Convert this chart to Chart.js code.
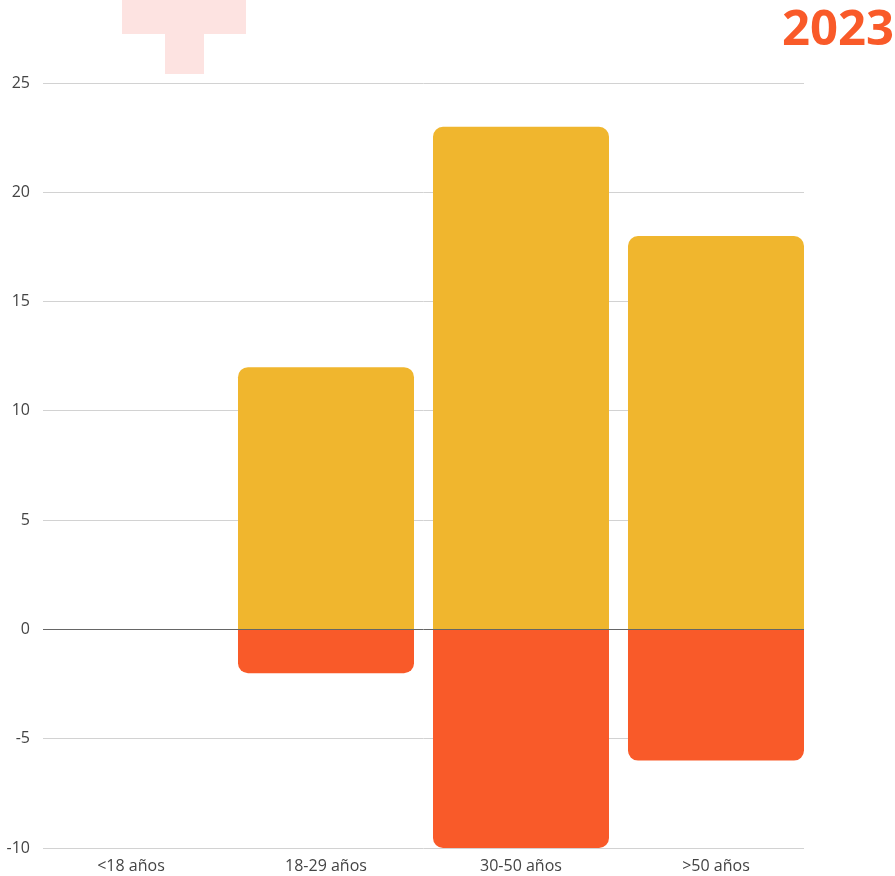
<!DOCTYPE html>
<html>
<head>
<meta charset="utf-8">
<script src="https://cdn.jsdelivr.net/npm/chart.js@4/dist/chart.umd.min.js"></script>
<style>
    body { margin: 0; background: #fff; }
    #contenedor { position: relative; width: 895px; height: 876px; overflow: hidden; }
    .cruz { position: absolute; background: #fde3e1; }
    #anio {
        position: absolute; top: -7px; right: 1px;
        font-family: "Open Sans", sans-serif; font-weight: 700; font-size: 49px;
        color: #f95a29;
    }
    canvas { position: absolute; left: 0; top: 0; }
</style>
</head>
<body>
<div id="contenedor">
    <div class="cruz" style="left:122px;top:0;width:124px;height:34px"></div>
    <div class="cruz" style="left:165px;top:34px;width:39px;height:40px"></div>
    <div id="anio">2023</div>
    <canvas id="canvas-edades" width="895" height="876"></canvas>
</div>
<script>
// datos por grupo de edad
var labelsEdad = ["<18 años", "18-29 años", "30-50 años", ">50 años"];
var dataPositivo = [0, 12, 23, 18];
var dataNegativo = [0, -2, -10, -6];
var ticksY = [-10, -5, 0, 5, 10, 15, 20, 25];

function puntos(valores) {
    return valores.map((v, i) => ({ x: i, y: v }));
}

var contexto = document.getElementById("canvas-edades").getContext("2d");
var chartEdades = new Chart(contexto, {
    type: "bar",
    data: {
        datasets: [
            {
                label: "Positivo",
                data: puntos(dataPositivo),
                backgroundColor: "#f0b62e",
                borderRadius: 10,
                borderSkipped: "start",
            },
            {
                label: "Negativo",
                data: puntos(dataNegativo),
                backgroundColor: "#f95a29",
                borderRadius: 10,
                borderSkipped: "start",
            },
        ],
    },
    options: {
        responsive: false,
        animation: false,
        categoryPercentage: 1,
        barPercentage: 0.9026,
        layout: {
            padding: { top: 83, right: 91, bottom: 1, left: 0 },
        },
        plugins: {
            legend: { display: false },
            tooltip: { enabled: false },
        },
        scales: {
            x: {
                type: "linear",
                stacked: true,
                offset: false,
                min: -0.4513,
                max: 3.4513,
                grid: { display: false, drawTicks: false, offset: false },
                border: { display: false },
                afterBuildTicks: (scale) => {
                    scale.ticks = labelsEdad.map((l, i) => ({ value: i }));
                },
                afterFit: (scale) => {
                    scale.height = 27;
                },
                ticks: {
                    padding: 9,
                    color: "#444",
                    font: { family: "Open Sans", size: 16 },
                    maxRotation: 0,
                    callback: (v) => labelsEdad[v],
                },
            },
            y: {
                stacked: true,
                min: -10,
                max: 25,
                afterBuildTicks: (scale) => {
                    scale.ticks = ticksY.map((v) => ({ value: v }));
                },
                afterFit: (scale) => {
                    scale.width = 43;
                },
                grid: {
                    drawTicks: false,
                    color: (ctx) => (ctx.tick && ctx.tick.value === 0 ? "#666" : "#d2d2d2"),
                },
                border: { display: false },
                ticks: {
                    padding: 13,
                    color: "#444",
                    font: { family: "Open Sans", size: 16 },
                },
            },
        },
    },
});
</script>
</body>
</html>
